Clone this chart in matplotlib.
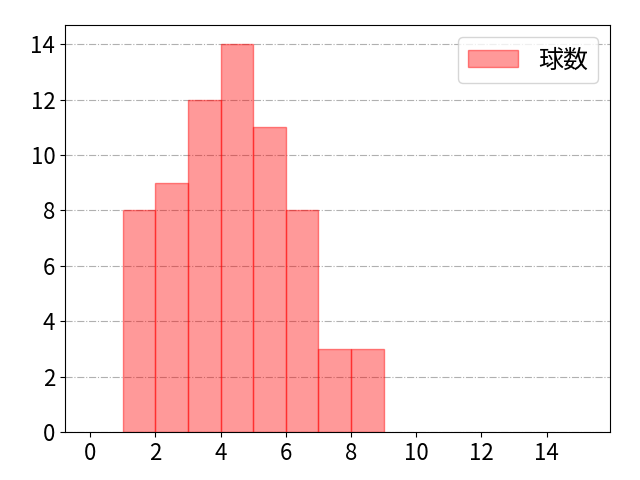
import numpy as np
import matplotlib
matplotlib.use("Agg")
import matplotlib.pyplot as plt

plt.rcParams['font.family'] = ['Noto Sans CJK JP', 'DejaVu Sans']

# pitch-count histogram, one count per unit bin
bin_edges = [1, 2, 3, 4, 5, 6, 7, 8, 9]
counts = [8, 9, 12, 14, 11, 8, 3, 3]
label = '球数'

fig = plt.figure(figsize=(6.4, 4.8), dpi=100)
ax = fig.add_axes([0.1016, 0.1, 0.852, 0.848])
ax.hist(bin_edges[:-1], bins=bin_edges, weights=counts,
        facecolor=(1, 0, 0, 0.4), edgecolor=(1, 0, 0, 0.45), linewidth=1,
        label=label)

ax.set_xlim(-0.77, 15.95)
ax.set_ylim(0, 14.7)
ax.set_xticks(np.arange(0, 16, 2))
ax.set_yticks(np.arange(0, 15, 2))
ax.tick_params(labelsize=16)
ax.yaxis.grid(True, linestyle='-.', color='#b0b0b0', linewidth=0.8)
ax.set_axisbelow(True)
ax.legend(loc='upper right', fontsize=18)

fig.savefig('out.png')
